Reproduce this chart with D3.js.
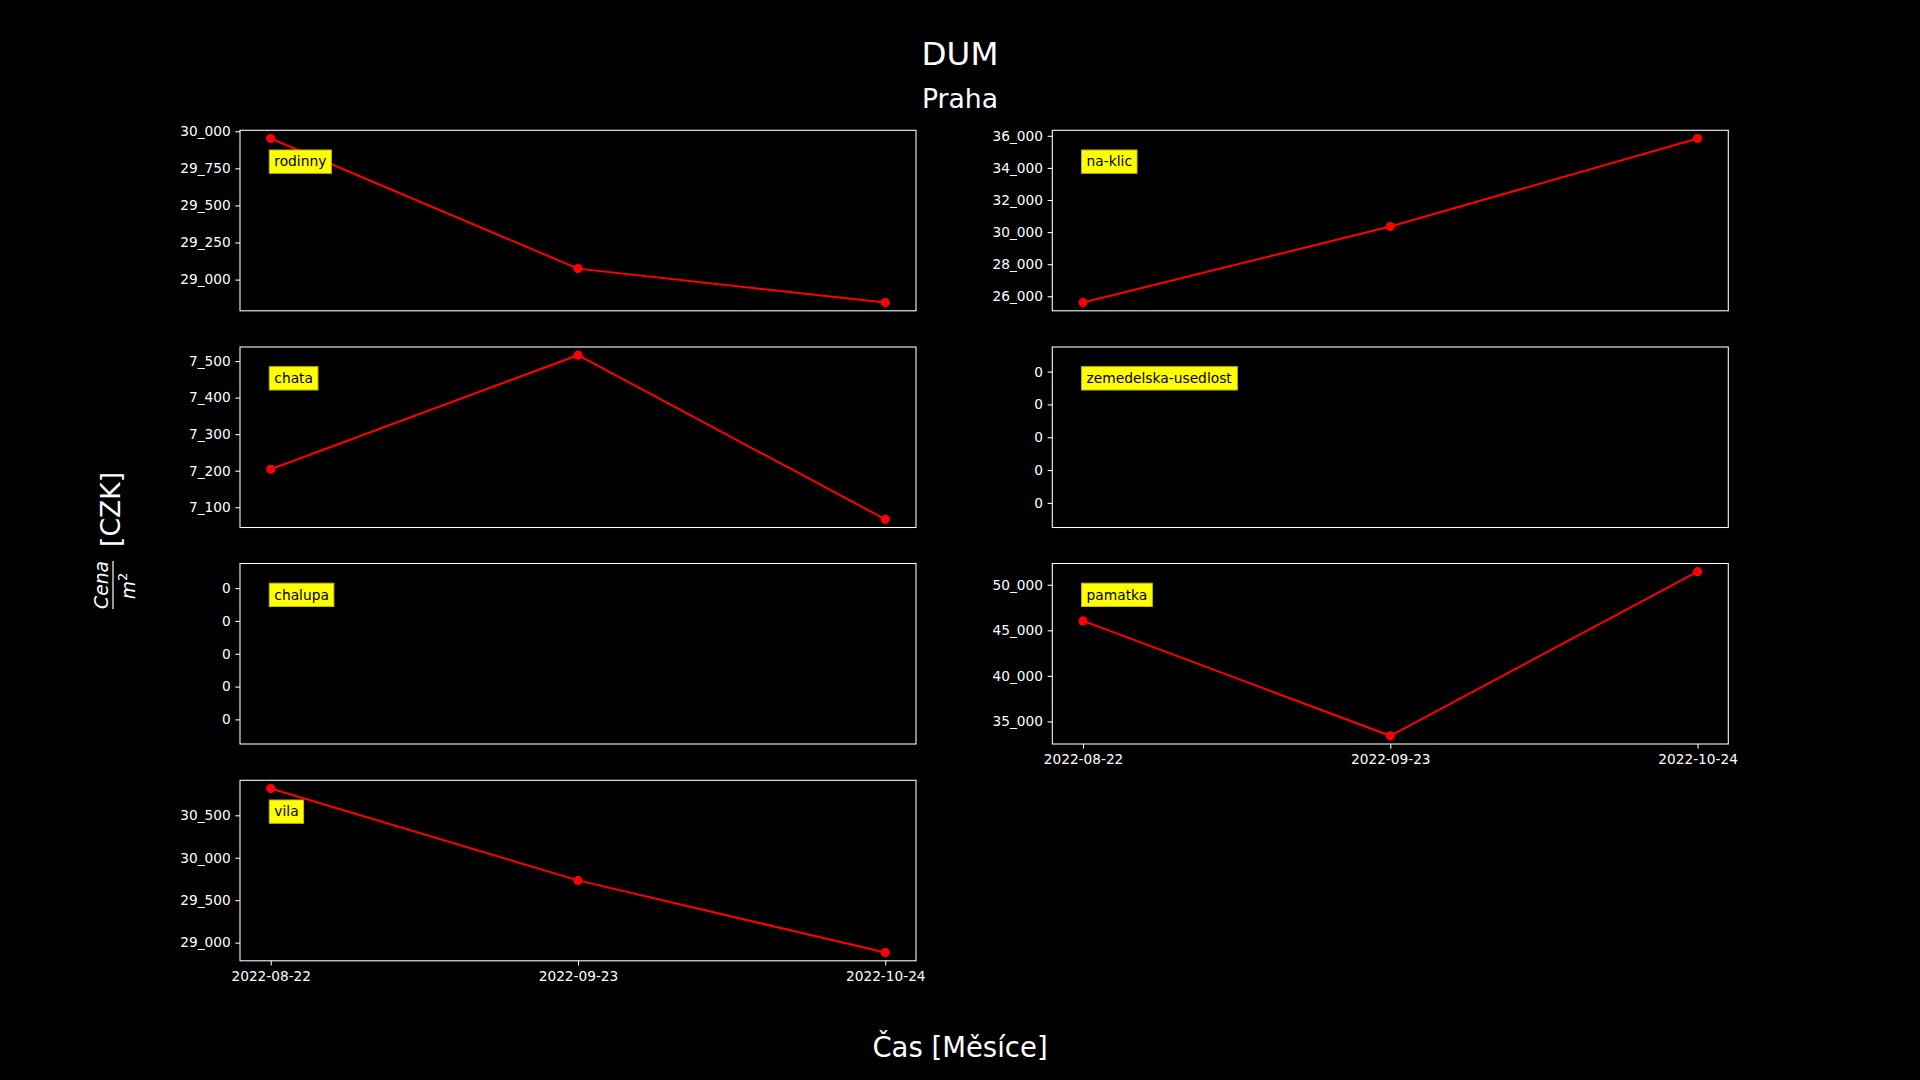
<!DOCTYPE html>
<html>
<head>
<meta charset="utf-8">
<script src="https://cdn.jsdelivr.net/npm/d3@7"></script>
<style>
  html, body { margin: 0; padding: 0; background: #000; }
  svg { display: block; }
  text { font-family: "DejaVu Sans", sans-serif; fill: #fff; }
</style>
</head>
<body>
<svg id="chart" width="1920" height="1080"></svg>
<script>
// ---- data ----
const dates = ["2022-08-22", "2022-09-23", "2022-10-24"];
const categories = ["rodinny", "na-klic", "chata", "zemedelska-usedlost", "chalupa", "pamatka", "vila"];
const rodinny = [29951, 29074, 28845];
const naKlic = [25607, 30348, 35832];
const chata = [7204, 7516, 7067];
const zemedelskaUsedlost = [null, null, null];
const chalupa = [null, null, null];
const pamatka = [46034, 33427, 51430];
const vila = [30816, 29733, 28882];
const seriesValues = [rodinny, naKlic, chata, zemedelskaUsedlost, chalupa, pamatka, vila];
const tickRodinny = [29000, 29250, 29500, 29750, 30000];
const tickNaKlic = [26000, 28000, 30000, 32000, 34000, 36000];
const tickChata = [7100, 7200, 7300, 7400, 7500];
const tickEmpty = [-0.04, -0.02, 0, 0.02, 0.04];
const tickPamatka = [35000, 40000, 45000, 50000];
const tickVila = [29000, 29500, 30000, 30500];
const tickValues = [tickRodinny, tickNaKlic, tickChata, tickEmpty, tickEmpty, tickPamatka, tickVila];
const title = "DUM";
const subtitle = "Praha";
const xLabel = "Čas [Měsíce]";

// ---- layout ----
const svg = d3.select("#chart");
const colX = [240, 1052.3];
const rowY = [130.3, 347, 563.5, 780.3];
const pw = 676, ph = 180.5;
const tickLen = 4.67, tickPad = 4.67;
const tickFont = "13.7px";
const fmt = v => d3.format(",.0f")(Math.abs(v) < 0.5 ? 0 : v).replace(/,/g, "_");
// bottom-most panel of each column shows x tick labels
const showX = [false, false, false, false, false, true, true];

categories.forEach((cat, i) => {
  const col = i % 2, row = Math.floor(i / 2);
  const g = svg.append("g").attr("transform", `translate(${colX[col]},${rowY[row]})`);
  const vals = seriesValues[i];
  const present = vals.filter(v => v !== null);
  let domain;
  if (present.length) {
    const [lo, hi] = d3.extent(present);
    const m = (hi - lo) * 0.05;
    domain = [lo - m, hi + m];
  } else {
    domain = [-0.055, 0.055];
  }
  const x = d3.scalePoint().domain(dates).range([0, pw]).padding(0.1);
  const y = d3.scaleLinear().domain(domain).range([ph, 0]);

  // y axis
  const ya = g.append("g").call(d3.axisLeft(y).tickValues(tickValues[i]).tickSize(tickLen).tickPadding(tickPad).tickFormat(fmt));
  ya.select(".domain").remove();
  ya.selectAll("line").attr("stroke", "#fff").attr("stroke-width", 1.07);
  ya.selectAll("text").attr("font-size", tickFont).attr("font-family", "DejaVu Sans").attr("fill", "#fff");

  if (showX[i]) {
    const xa = g.append("g").attr("transform", `translate(0,${ph})`)
      .call(d3.axisBottom(x).tickSize(tickLen).tickPadding(tickPad + 1));
    xa.select(".domain").remove();
    xa.selectAll("line").attr("stroke", "#fff").attr("stroke-width", 1.07);
    xa.selectAll("text").attr("font-size", tickFont).attr("font-family", "DejaVu Sans").attr("fill", "#fff");
  }

  // line + markers
  const pts = dates.map((d, k) => ({ d, v: vals[k] })).filter(p => p.v !== null);
  if (pts.length) {
    g.append("path").datum(pts)
      .attr("d", d3.line().x(p => x(p.d)).y(p => y(p.v)))
      .attr("fill", "none").attr("stroke", "#ff0000").attr("stroke-width", 2);
    g.selectAll("circle.pt").data(pts).enter().append("circle")
      .attr("cx", p => x(p.d)).attr("cy", p => y(p.v)).attr("r", 4.6).attr("fill", "#ff0000");
  }

  // spines
  g.append("rect").attr("x", 0).attr("y", 0).attr("width", pw).attr("height", ph)
    .attr("fill", "none").attr("stroke", "#fff").attr("stroke-width", 1.07);

  // label box
  const lg = g.append("g");
  const t = lg.append("text").attr("x", 34.3).attr("y", 23.7 + 12.5)
    .attr("font-size", "13.8px").attr("fill", "#000").style("fill", "#000").text(cat);
  const bb = t.node().getBBox();
  lg.insert("rect", "text").attr("x", 29.3).attr("y", 19.7)
    .attr("width", bb.width + 10).attr("height", 23.3)
    .attr("fill", "#ffff00").attr("stroke", "#bfbf00").attr("stroke-width", 1);
});

// titles
svg.append("text").attr("x", 960).attr("y", 65).attr("text-anchor", "middle")
  .attr("font-size", "32.5px").text(title);
svg.append("text").attr("x", 960).attr("y", 108.3).attr("text-anchor", "middle")
  .attr("font-size", "26.67px").text(subtitle);
svg.append("text").attr("x", 960).attr("y", 1057).attr("text-anchor", "middle")
  .attr("font-size", "27.5px").text(xLabel);

// y label: Cena/m^2 [CZK], rotated
const yl = svg.append("g").attr("transform", "translate(120,540) rotate(-90)");
yl.append("text").attr("x", -7).attr("y", 0).attr("font-size", "26.67px").text("[CZK]");
yl.append("text").attr("x", -45).attr("y", -12).attr("text-anchor", "middle")
  .attr("font-size", "18.67px").attr("font-style", "italic").text("Cena");
yl.append("line").attr("x1", -69).attr("x2", -21).attr("y1", -7).attr("y2", -7)
  .attr("stroke", "#fff").attr("stroke-width", 1.2);
const mt = yl.append("text").attr("x", -46).attr("y", 15).attr("text-anchor", "middle")
  .attr("font-size", "18.67px").attr("font-style", "italic");
mt.append("tspan").text("m");
mt.append("tspan").attr("font-size", "13px").attr("font-style", "normal").attr("dy", -8).text("2");
</script>
</body>
</html>
